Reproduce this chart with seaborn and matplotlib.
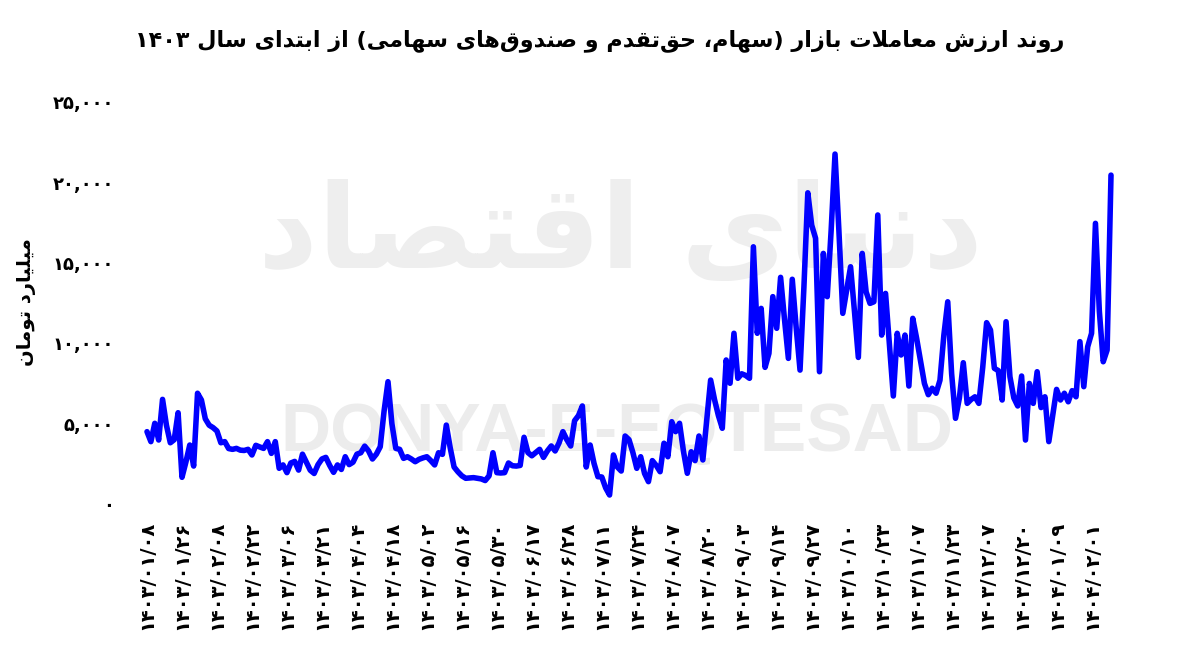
import re
import pandas as pd
import matplotlib
matplotlib.use("Agg")
import matplotlib.pyplot as plt
import seaborn as sns

# ------------ data ------------
title_text = "روند ارزش معاملات بازار (سهام، حق\u200cتقدم و صندوق\u200cهای سهامی) از ابتدای سال ۱۴۰۳"
y_label_text = "میلیارد تومان"
watermark_fa = "دنیای اقتصاد"
watermark_en = "DONYA-E-EQTESAD"

date_labels = ["1403/01/08", "1403/01/26", "1403/02/08", "1403/02/22", "1403/03/06", "1403/03/21",
               "1403/04/04", "1403/04/18", "1403/05/02", "1403/05/16", "1403/05/30", "1403/06/17",
               "1403/06/28", "1403/07/11", "1403/07/24", "1403/08/07", "1403/08/20", "1403/09/03",
               "1403/09/14", "1403/09/27", "1403/10/10", "1403/10/23", "1403/11/07", "1403/11/23",
               "1403/12/07", "1403/12/20", "1404/01/09", "1404/02/01"]
label_step = 9  # one date label every 9 trading days

y_ticks = [0, 5000, 10000, 15000, 20000, 25000]

# daily trade value, billion toman
trade_value = [
    4500, 3880, 5020, 3980, 6510, 4900, 3810, 4000, 5680,
    1660, 2600, 3670, 2360, 6890, 6470, 5300, 4900, 4750,
    4540, 3810, 3880, 3450, 3400, 3460, 3350, 3330, 3400,
    3050, 3650, 3550, 3460, 3880, 3150, 3880, 2220, 2430,
    1950, 2550, 2650, 2110, 3100, 2600, 2100, 1900, 2450,
    2800, 2900, 2400, 1970, 2430, 2150, 2940, 2450, 2600,
    3100, 3190, 3600, 3300, 2800, 3100, 3560, 5800, 7610,
    5000, 3460, 3400, 2840, 2940, 2800, 2630, 2780, 2870,
    2940, 2700, 2430, 3190, 3090, 4910, 3500, 2300, 2000,
    1750, 1600, 1620, 1640, 1600, 1560, 1460, 1750, 3190,
    1950, 1930, 1950, 2550, 2380, 2360, 2400, 4150, 3200,
    3000, 3200, 3400, 2900, 3300, 3610, 3300, 3800, 4500,
    4000, 3610, 5180, 5500, 6100, 2300, 3670, 2530, 1700,
    1680, 1000, 560, 3050, 2300, 2050, 4230, 4000, 3200,
    2220, 2940, 1900, 1390, 2700, 2400, 2010, 3780, 2940,
    5120, 4500, 5020, 3300, 1910, 3250, 2700, 4230, 2740,
    5200, 7710, 6500, 5500, 4710, 8960, 7510, 10620, 7820,
    8100, 8000, 7820, 16000, 10620, 12170, 8500, 9370, 12900,
    10930, 14100, 11500, 9060, 13980, 11000, 8330, 13500, 19360,
    17350, 16530, 8230, 15590, 12900, 17000, 21770, 17000, 11860,
    13300, 14760, 12000, 9120, 15590, 13200, 12480, 12580, 17980,
    10510, 13100, 9900, 6720, 10620, 9270, 10510, 7340, 11550,
    10300, 8900, 7500, 6800, 7200, 6890, 7700, 10500, 12580,
    8100, 5330, 6600, 8790, 6260, 6500, 6670, 6260, 8500,
    11280, 10820, 8440, 8300, 6470, 11340, 7920, 6600, 6100,
    7960, 3980, 7500, 6260, 8230, 6000, 6670, 3880, 5500,
    7130, 6470, 6890, 6360, 7050, 6670, 10100, 7300, 9780,
    10620, 17460, 12000, 8850, 9580, 20460,
]

# ------------ persian helpers ------------
FA_DIGITS = str.maketrans("0123456789", "۰۱۲۳۴۵۶۷۸۹")

# isolated, final, initial, medial
FORMS = {
    "ا": ("\uFE8D", "\uFE8E", None, None), "آ": ("\uFE81", "\uFE82", None, None),
    "ب": ("\uFE8F", "\uFE90", "\uFE91", "\uFE92"), "پ": ("\uFB56", "\uFB57", "\uFB58", "\uFB59"),
    "ت": ("\uFE95", "\uFE96", "\uFE97", "\uFE98"), "ث": ("\uFE99", "\uFE9A", "\uFE9B", "\uFE9C"),
    "ج": ("\uFE9D", "\uFE9E", "\uFE9F", "\uFEA0"), "چ": ("\uFB7A", "\uFB7B", "\uFB7C", "\uFB7D"),
    "ح": ("\uFEA1", "\uFEA2", "\uFEA3", "\uFEA4"), "خ": ("\uFEA5", "\uFEA6", "\uFEA7", "\uFEA8"),
    "د": ("\uFEA9", "\uFEAA", None, None), "ذ": ("\uFEAB", "\uFEAC", None, None),
    "ر": ("\uFEAD", "\uFEAE", None, None), "ز": ("\uFEAF", "\uFEB0", None, None),
    "ژ": ("\uFB8A", "\uFB8B", None, None),
    "س": ("\uFEB1", "\uFEB2", "\uFEB3", "\uFEB4"), "ش": ("\uFEB5", "\uFEB6", "\uFEB7", "\uFEB8"),
    "ص": ("\uFEB9", "\uFEBA", "\uFEBB", "\uFEBC"), "ض": ("\uFEBD", "\uFEBE", "\uFEBF", "\uFEC0"),
    "ط": ("\uFEC1", "\uFEC2", "\uFEC3", "\uFEC4"), "ظ": ("\uFEC5", "\uFEC6", "\uFEC7", "\uFEC8"),
    "ع": ("\uFEC9", "\uFECA", "\uFECB", "\uFECC"), "غ": ("\uFECD", "\uFECE", "\uFECF", "\uFED0"),
    "ف": ("\uFED1", "\uFED2", "\uFED3", "\uFED4"), "ق": ("\uFED5", "\uFED6", "\uFED7", "\uFED8"),
    "ک": ("\uFB8E", "\uFB8F", "\uFB90", "\uFB91"), "گ": ("\uFB92", "\uFB93", "\uFB94", "\uFB95"),
    "ل": ("\uFEDD", "\uFEDE", "\uFEDF", "\uFEE0"), "م": ("\uFEE1", "\uFEE2", "\uFEE3", "\uFEE4"),
    "ن": ("\uFEE5", "\uFEE6", "\uFEE7", "\uFEE8"), "ه": ("\uFEE9", "\uFEEA", "\uFEEB", "\uFEEC"),
    "و": ("\uFEED", "\uFEEE", None, None),
    "ی": ("\uFBFC", "\uFBFD", "\uFBFE", "\uFBFF"),
}


def joins_forward(ch):
    return ch in FORMS and FORMS[ch][2] is not None


def shape(text):
    out = []
    i = 0
    while i < len(text):
        c = text[i]
        prev = text[i - 1] if i > 0 else ""
        nxt = text[i + 1] if i + 1 < len(text) else ""
        if c not in FORMS:
            out.append(c)
            i += 1
            continue
        after_join = joins_forward(prev)
        if c == "ل" and nxt == "ا":
            out.append("\uFEFC" if after_join else "\uFEFB")
            i += 2
            continue
        iso, fin, ini, med = FORMS[c]
        before_join = joins_forward(c) and nxt in FORMS
        if after_join and before_join:
            out.append(med)
        elif after_join:
            out.append(fin)
        elif before_join:
            out.append(ini)
        else:
            out.append(iso)
        i += 1
    return "".join(out).replace("\u200c", "")


def rtl(text):
    s = shape(text)
    tokens = re.findall(r"[0-9\u06F0-\u06F9A-Za-z]+|.", s)
    mirror = {"(": ")", ")": "("}
    return "".join(mirror.get(t, t) for t in reversed(tokens))


# ------------ plot ------------
df = pd.DataFrame({"idx": range(len(trade_value)), "value": trade_value})

sns.set_theme(style="white")
plt.rcParams["font.family"] = ["DejaVu Sans"]
plt.rcParams["text.color"] = "black"
plt.rcParams["xtick.color"] = "black"
plt.rcParams["ytick.color"] = "black"

fig = plt.figure(figsize=(12, 6.72), dpi=100)
ax = fig.add_axes([147 / 1200, 0.25, 964 / 1200, 0.598])

# watermark, kept under the line
ax.text(0.517, 0.65, rtl(watermark_fa), transform=fig.transFigure, fontsize=84,
        fontweight="bold", color="#EEEEEE", ha="center", va="center", zorder=0.5)
ax.text(0.514, 0.355, watermark_en, transform=fig.transFigure, fontsize=50,
        fontweight="bold", family="Liberation Sans", color="#ECECEC",
        ha="center", va="center", zorder=0.5)

sns.lineplot(data=df, x="idx", y="value", color="#0000FF", linewidth=4, ax=ax,
             solid_joinstyle="round", solid_capstyle="round", clip_on=False, zorder=3)

ax.set_xlim(0, len(trade_value) - 1)
ax.set_ylim(0, 25000)
ax.set_xticks(range(0, label_step * len(date_labels), label_step))
ax.set_xticklabels([d.translate(FA_DIGITS) for d in date_labels], rotation=90,
                   fontsize=14, fontweight="bold")
ax.set_yticks(y_ticks)
ax.set_yticklabels([f"{v:,}".translate(FA_DIGITS) for v in y_ticks],
                   fontsize=13, fontweight="bold")
ax.tick_params(axis="x", length=0, pad=12, colors="black")
ax.tick_params(axis="y", length=0, pad=24, colors="black")
ax.set_xlabel("")
ax.set_ylabel("")
sns.despine(ax=ax, left=True, bottom=True)
ax.grid(False)

fig.text(0.022, 0.55, rtl(y_label_text), rotation=90, fontsize=14, fontweight="bold",
         ha="center", va="center", color="black")
fig.text(0.5, 0.94, rtl(title_text), fontsize=16, fontweight="bold", ha="center", va="center",
         color="black")

fig.savefig("out.png", dpi=100, facecolor="white")
